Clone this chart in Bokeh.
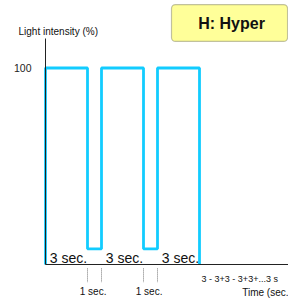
from bokeh.plotting import figure
from bokeh.models import Range1d, FixedTicker, BoxAnnotation, Label
from bokeh.core.properties import value
from bokeh.embed import file_html
from bokeh.resources import INLINE

# ---- data ----
phase_start = [0, 3, 4, 7, 8]
phase_end = [3, 4, 7, 8, 11]
phase_level = [100, 8, 100, 8, 100]
phase_label = ["3 sec.", "1 sec.", "3 sec.", "1 sec.", "3 sec."]
y_ticks = [100]
y_title = "Light intensity (%)"
x_title = "Time (sec."
sequence_text = "3 - 3+3 - 3+3+...3 s"
mode_text = "H: Hyper"

FONT = "Liberation Sans"
CYAN = "#12CCFF"

# build step path
xs, ys = [phase_start[0]], [0]
for s, e, lv in zip(phase_start, phase_end, phase_level):
    xs += [s, e]
    ys += [lv, lv]
xs.append(phase_end[-1])
ys.append(0)

PX_X = 14.0     # px per second
PX_Y = 1.965    # px per percent
p = figure(width=288, height=298, output_backend="svg", toolbar_location=None,
           x_range=Range1d(-45 / PX_X, 243 / PX_X),
           y_range=Range1d(-34 / PX_Y, 264 / PX_Y),
           min_border=0, min_border_left=0, min_border_right=0,
           min_border_top=0, min_border_bottom=0)
p.outline_line_color = None
p.grid.visible = False
p.background_fill_color = "white"

# axes
p.xaxis.fixed_location = 0
p.yaxis.fixed_location = 0
p.yaxis.ticker = FixedTicker(ticks=y_ticks)
p.yaxis.bounds = (0, 115)
p.xaxis.ticker = FixedTicker(ticks=[])
p.xaxis.bounds = (0, 243 / PX_X)
for ax in (p.xaxis, p.yaxis):
    ax.major_tick_line_color = None
    ax.minor_tick_line_color = None
    ax.axis_line_color = "#222222"
    ax.axis_line_width = 1
    ax.major_label_text_font = FONT
    ax.major_label_text_font_size = "10.5px"
    ax.major_label_text_color = "#222222"
p.yaxis.major_label_standoff = 8
p.yaxis.major_label_text_baseline = "alphabetic"

# signal
p.line(xs, ys, line_color=CYAN, line_width=2.8)

# phase labels
hi = [(s, lab) for s, lab, lv in zip(phase_start, phase_label, phase_level) if lv == 100]
p.text([s + 0.3 for s, _ in hi], [3.5] * len(hi), [lab for _, lab in hi],
       text_font=value(FONT), text_font_size=value("14px"), text_color="#111111",
       text_baseline="alphabetic")

lo = [(s, e, lab) for s, e, lab, lv in zip(phase_start, phase_end, phase_label, phase_level) if lv != 100]
dx = []
for s, e, _ in lo:
    dx += [s, e]
p.segment(dx, [-2.0] * len(dx), dx, [-9.2] * len(dx), line_color="#777777",
          line_width=1, line_dash="1 1")
p.text([(s + e) / 2 - 0.1 for s, e, _ in lo], [-13.8] * len(lo), [lab for _, _, lab in lo],
       text_font=value(FONT), text_font_size=value("10px"), text_color="#111111",
       text_align="center", text_baseline="alphabetic")

# axis texts
p.text([11.15], [-7.4], [sequence_text], text_font=value(FONT),
       text_font_size=value("9px"), text_color="#111111", text_baseline="alphabetic")
p.text([14.05], [-14.0], [x_title], text_font=value(FONT),
       text_font_size=value("10px"), text_color="#111111", text_baseline="alphabetic")
p.text([-1.93], [118.6], [y_title], text_font=value(FONT),
       text_font_size=value("10px"), text_color="#111111", text_baseline="alphabetic")

# mode box
box = BoxAnnotation(left=9.0, right=17.29, bottom=113.5, top=132.3,
                    fill_color="#FFFF99", fill_alpha=1.0,
                    line_color="#333333", line_width=1.2, border_radius=4,
                    level="overlay")
p.add_layout(box)
p.add_layout(Label(x=13.29, y=122.9, text=mode_text, text_font=FONT,
                   text_font_size="16px", text_font_style="bold",
                   text_color="#111111", text_align="center", text_baseline="middle",
                   level="overlay"))

open("out.html", "w").write(file_html(p, INLINE))
